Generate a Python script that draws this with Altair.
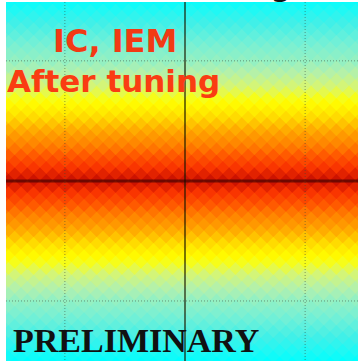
import altair as alt
import pandas as pd

# Colour level of each diamond row, read from top (row +29) to bottom (row -29)
levels = [0.00, 0.02, 0.04, 0.06, 0.08, 0.10, 0.12, 0.14, 0.16, 0.18,
          0.20, 0.23, 0.26, 0.29, 0.32, 0.36, 0.40, 0.44, 0.48, 0.53,
          0.58, 0.63, 0.68, 0.72, 0.76, 0.81, 0.85, 0.89, 0.93, 0.96,
          0.93, 0.89, 0.85, 0.81, 0.76, 0.72, 0.68, 0.63, 0.58, 0.53,
          0.48, 0.44, 0.40, 0.36, 0.32, 0.29, 0.26, 0.23, 0.20, 0.18,
          0.16, 0.14, 0.12, 0.10, 0.08, 0.06, 0.04, 0.02, 0.00]
columns = list(range(-16, 16))
cell = 0.105

color_stops = [0, 0.08, 0.15, 0.25, 0.33, 0.42, 0.52, 0.62, 0.72, 0.82, 0.9, 1.0]
color_range = ["#00FFFF", "#40F0E8", "#78F0D4", "#B0F0B0", "#D8F670", "#FFFF00",
               "#FFE000", "#FFB000", "#FF8800", "#FF5500", "#F83000", "#B00000"]

grid_pos = [-1, 1]
labels = ["IC, IEM", "After tuning", "PRELIMINARY"]

rows = []
half = (len(levels) - 1) // 2
for j, v in enumerate(levels):
    k = half - j
    off = 0.0 if k % 2 == 0 else cell / 2
    for i in columns:
        rows.append({"x": i * cell + off, "y": k * cell / 2, "v": v})
df = pd.DataFrame(rows)

xs = alt.Scale(domain=[-1.49, 1.44], nice=False, zero=False)
ys = alt.Scale(domain=[-1.5, 1.49], nice=False, zero=False)

heat = alt.Chart(df).mark_point(shape="diamond", filled=True, size=196,
                                opacity=1, strokeWidth=0, clip=True).encode(
    x=alt.X("x:Q", scale=xs, axis=None),
    y=alt.Y("y:Q", scale=ys, axis=None),
    color=alt.Color("v:Q", scale=alt.Scale(domain=color_stops, range=color_range,
                                           interpolate="rgb"), legend=None),
)

gdf = pd.DataFrame({"g": grid_pos})
gx = alt.Chart(gdf).mark_rule(strokeDash=[1, 2], color="#3a4a3a", opacity=0.55,
                              strokeWidth=1).encode(x=alt.X("g:Q", scale=xs, axis=None))
gy = alt.Chart(gdf).mark_rule(strokeDash=[1, 2], color="#3a4a3a", opacity=0.55,
                              strokeWidth=1).encode(y=alt.Y("g:Q", scale=ys, axis=None))

zdf = pd.DataFrame({"z": [0]})
vline = alt.Chart(zdf).mark_rule(color="#1a1a00", opacity=0.75, strokeWidth=1.6).encode(
    x=alt.X("z:Q", scale=xs, axis=None))
hline = alt.Chart(zdf).mark_rule(color="#200000", opacity=0.55, strokeWidth=3).encode(
    y=alt.Y("z:Q", scale=ys, axis=None))

def label(txt, x, y, font, size, color, weight="bold"):
    return alt.Chart(pd.DataFrame({"t": [txt]})).mark_text(
        align="left", baseline="alphabetic", font=font, fontSize=size,
        fontWeight=weight, color=color).encode(
        text="t:N", x=alt.value(x), y=alt.value(y))

t1 = label(labels[0], 47, 50, "DejaVu Sans", 32, "#F23A14")
t2 = label(labels[1], 1, 90, "DejaVu Sans", 31, "#FA3C12")
t3 = label(labels[2], 7, 350, "Liberation Serif", 34, "#111111")
t4 = alt.Chart(pd.DataFrame({"t": ["g"]})).mark_text(
    align="center", baseline="alphabetic", font="DejaVu Sans", fontSize=28,
    fontWeight="bold", color="#111111").encode(
    text="t:N", x=alt.value(275), y=alt.value(-6))

chart = alt.layer(heat, gx, gy, vline, hline, t1, t2, t3, t4).properties(
    width=352, height=359,
    padding={"left": 6, "top": 2, "right": 0, "bottom": 0},
    autosize="none",
    background="white",
).configure_view(stroke=None)

chart.save("out.html", embed_options={"renderer": "svg", "actions": False})
